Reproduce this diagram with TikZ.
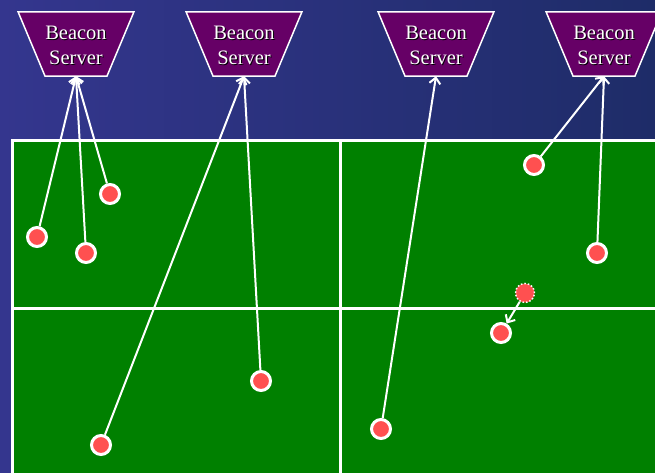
\documentclass[tikz,border=0pt]{standalone}
\usepackage{fontspec}
\setmainfont{Liberation Serif}
\usetikzlibrary{arrows.meta}
\definecolor{bgtop}{RGB}{52,54,142}
\definecolor{bgbot}{RGB}{30,44,104}
\definecolor{lawn}{RGB}{0,128,0}
\definecolor{servpurple}{RGB}{102,0,102}
\definecolor{hostred}{RGB}{255,80,80}
\newcommand{\shtext}[1]{\makebox[0pt][l]{\hspace{1pt}\raisebox{-1pt}{\color{black}#1}}#1}
\pgfdeclarelayer{back}
\pgfdeclarelayer{mid}
\pgfsetlayers{back,mid,main}

\begin{document}
\begin{tikzpicture}[
	x=1pt, y=-1pt,
	server/.style={minimum width=58pt, minimum height=64pt, inner sep=0pt, text=white,
		align=center, font=\fontsize{20.5}{25}\selectfont},
	servbox/.style={draw=white, line width=1.5pt, fill=servpurple},
	host/.style={circle, draw=white, line width=3pt, fill=hostred, minimum size=19pt, inner sep=0pt},
	ghost/.style={circle, draw=white, dotted, line width=1.5pt, fill=hostred, minimum size=19pt, inner sep=0pt},
	arrow/.style={-{Straight Barb[length=6pt, width=11pt]}, white, line width=2pt}
	]
	\useasboundingbox (0,0) rectangle (655,472);
	
	% background and field
	\begin{pgfonlayer}{back}
		\shade[shading angle=135, left color=bgtop, right color=bgbot] (0,0) rectangle (655,472);
		\draw[white, line width=3pt, fill=lawn] (12,140) rectangle (670,480);
		\draw[white, line width=3pt] (340,140) -- (340,480);
		\draw[white, line width=3pt] (12,308) -- (670,308);
	\end{pgfonlayer}
	
	% --- beacon servers ---
	\node[server] (s1) at (76,46) {\shtext{Beacon}\\\shtext{Server}};
	\node[server] (s2) at (244,46) {\shtext{Beacon}\\\shtext{Server}};
	\node[server] (s3) at (436,46) {\shtext{Beacon}\\\shtext{Server}};
	\node[server] (s4) at (604,46) {\shtext{Beacon}\\\shtext{Server}};
	
	\begin{pgfonlayer}{mid}
		\foreach \s in {s1,s2,s3,s4}
			\draw[servbox] ([xshift=-27pt, yshift=2pt]\s.north west) -- ([xshift=27pt, yshift=2pt]\s.north east)
				-- ([yshift=2pt]\s.south east) -- ([yshift=2pt]\s.south west) -- cycle;
	\end{pgfonlayer}
	
	% --- hosts ---
	\node[host] (a) at (37,237) {};
	\node[host] (b) at (86,253) {};
	\node[host] (c) at (110,194) {};
	\node[host] (d) at (101,445) {};
	\node[host] (e) at (261,381) {};
	\node[host] (f) at (381,429) {};
	\node[host] (g) at (534,165) {};
	\node[host] (h) at (597,253) {};
	\node[ghost] (old) at (525,293) {};
	\node[host] (new) at (501,333) {};
	
	\draw[arrow] (a) -- ([yshift=2pt]s1.south);
	\draw[arrow] (b) -- ([yshift=2pt]s1.south);
	\draw[arrow] (c) -- ([yshift=2pt]s1.south);
	
	\draw[arrow] (d) -- ([yshift=2pt]s2.south);
	\draw[arrow] (e) -- ([yshift=2pt]s2.south);
	
	\draw[arrow] (f) -- ([yshift=2pt]s3.south);
	
	\draw[arrow] (g) -- ([yshift=2pt]s4.south);
	\draw[arrow] (h) -- ([yshift=2pt]s4.south);
	
	\draw[arrow] (old) -- (new);
	
\end{tikzpicture}
\end{document}
